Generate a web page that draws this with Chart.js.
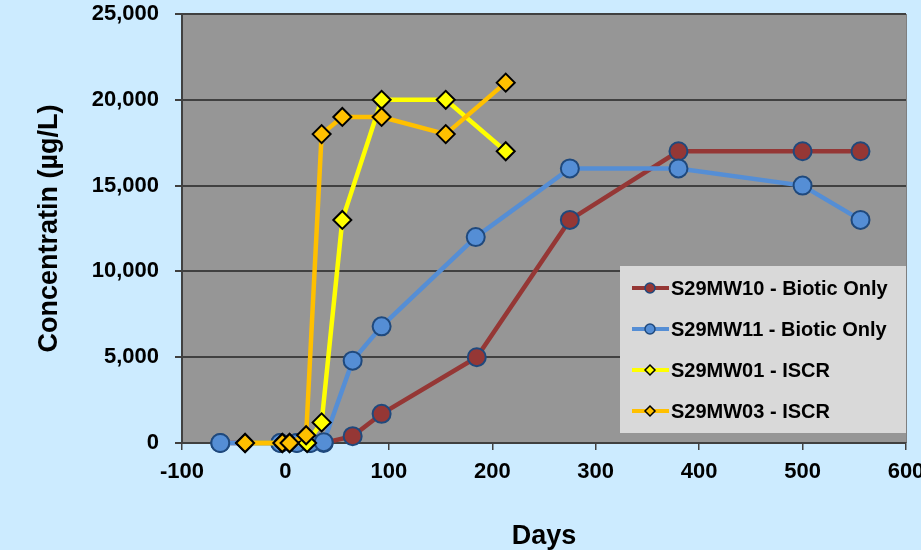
<!DOCTYPE html>
<html lang="en">
<head>
    <meta charset="UTF-8">
    <title>Concentration vs Days</title>
    <script src="https://cdn.jsdelivr.net/npm/chart.js"></script>
    <style>
        body { margin: 0; background: #CCEBFF; }
    </style>
</head>
<body>
    <canvas id="myChart" width="921" height="550"></canvas>

    <script>
        // series data
        const seriesNames = ['S29MW10 - Biotic Only', 'S29MW11 - Biotic Only', 'S29MW01 - ISCR', 'S29MW03 - ISCR'];

        const mw10Days = [-63, -5, 11, 24, 37, 65, 93, 185, 275, 380, 500, 556];
        const mw10Vals = [0, 0, 0, 0, 0, 400, 1700, 5000, 13000, 17000, 17000, 17000];

        const mw11Days = [-63, -5, 11, 24, 37, 65, 93, 184, 275, 380, 500, 556];
        const mw11Vals = [0, 0, 0, 0, 50, 4800, 6800, 12000, 16000, 16000, 15000, 13000];

        const mw01Days = [-39, -3, 4, 21, 35, 55, 93, 155, 213];
        const mw01Vals = [0, 0, 0, 0, 1200, 13000, 20000, 20000, 17000];

        const mw03Days = [-39, -3, 4, 20, 35, 55, 93, 155, 213];
        const mw03Vals = [0, 0, 0, 450, 18000, 19000, 19000, 18000, 21000];

        const FONT = '"Liberation Sans", Arial, sans-serif';

        function pts(days, vals) {
            return days.map((d, i) => ({ x: d, y: vals[i] }));
        }

        // gray plot area + canvas background
        const bgPlugin = {
            id: 'bg',
            beforeDraw(chart) {
                const { ctx, chartArea: a } = chart;
                ctx.save();
                ctx.fillStyle = '#CCEBFF';
                ctx.fillRect(0, 0, chart.width, chart.height);
                ctx.fillStyle = '#969696';
                ctx.fillRect(a.left, a.top, a.right - a.left, a.bottom - a.top);
                ctx.strokeStyle = '#7f7f7f';
                ctx.lineWidth = 1;
                ctx.beginPath();
                ctx.moveTo(a.right + 0.5, a.top);
                ctx.lineTo(a.right + 0.5, a.bottom);
                ctx.stroke();
                ctx.restore();
            }
        };

        // legend box inside the plot, bottom right
        const boxLegend = {
            id: 'boxLegend',
            afterDraw(chart) {
                const { ctx, chartArea: a } = chart;
                const x0 = a.right - 286, y0 = a.bottom - 177, w = 286, h = 167;
                ctx.save();
                ctx.fillStyle = '#D9D9D9';
                ctx.fillRect(x0, y0, w, h);
                chart.data.datasets.forEach((ds, i) => {
                    const y = y0 + 22 + i * 41;
                    ctx.strokeStyle = ds.borderColor;
                    ctx.lineWidth = 4;
                    ctx.beginPath();
                    ctx.moveTo(x0 + 12, y);
                    ctx.lineTo(x0 + 49, y);
                    ctx.stroke();
                    ctx.fillStyle = ds.pointBackgroundColor;
                    ctx.strokeStyle = ds.pointBorderColor;
                    ctx.lineWidth = 1.5;
                    ctx.beginPath();
                    if (ds.pointStyle === 'circle') {
                        ctx.arc(x0 + 30, y, 5, 0, Math.PI * 2);
                    } else {
                        ctx.moveTo(x0 + 30, y - 5);
                        ctx.lineTo(x0 + 35, y);
                        ctx.lineTo(x0 + 30, y + 5);
                        ctx.lineTo(x0 + 25, y);
                        ctx.closePath();
                    }
                    ctx.fill();
                    ctx.stroke();
                    ctx.fillStyle = '#000';
                    ctx.font = 'bold 20px ' + FONT;
                    ctx.textBaseline = 'middle';
                    ctx.fillText(ds.label, x0 + 51, y + 1);
                });
                ctx.restore();
            }
        };

        const ctx = document.getElementById('myChart').getContext('2d');

        new Chart(ctx, {
            type: 'line',
            data: {
                datasets: [
                    {
                        label: seriesNames[0],
                        data: pts(mw10Days, mw10Vals),
                        borderColor: '#953735',
                        pointBackgroundColor: '#953735',
                        pointBorderColor: '#1F497D',
                        pointStyle: 'circle',
                        pointRadius: 9,
                        order: 4
                    },
                    {
                        label: seriesNames[1],
                        data: pts(mw11Days, mw11Vals),
                        borderColor: '#558ED5',
                        pointBackgroundColor: '#558ED5',
                        pointBorderColor: '#1F497D',
                        pointStyle: 'circle',
                        pointRadius: 9,
                        order: 3
                    },
                    {
                        label: seriesNames[2],
                        data: pts(mw01Days, mw01Vals),
                        borderColor: '#FFFF00',
                        pointBackgroundColor: '#FFFF00',
                        pointBorderColor: '#000000',
                        pointStyle: 'rectRot',
                        pointRadius: 9,
                        order: 2
                    },
                    {
                        label: seriesNames[3],
                        data: pts(mw03Days, mw03Vals),
                        borderColor: '#FFC000',
                        pointBackgroundColor: '#FFC000',
                        pointBorderColor: '#000000',
                        pointStyle: 'rectRot',
                        pointRadius: 9,
                        order: 1
                    }
                ]
            },
            options: {
                responsive: false,
                animation: false,
                clip: false,
                elements: {
                    line: { borderWidth: 4.5, tension: 0 },
                    point: { borderWidth: 2 }
                },
                layout: {
                    padding: { left: 0, right: 15, top: 14, bottom: 0 }
                },
                plugins: {
                    legend: { display: false },
                    tooltip: { enabled: false }
                },
                scales: {
                    x: {
                        type: 'linear',
                        min: -100,
                        max: 600,
                        afterFit: s => {
                            s.height = 107;
                            s.paddingLeft = 0;
                            s.paddingRight = 0;
                        },
                        ticks: {
                            stepSize: 100,
                            color: '#000',
                            padding: 9,
                            font: { family: FONT, size: 22, weight: 'bold' }
                        },
                        grid: {
                            drawOnChartArea: false,
                            tickLength: 7,
                            tickColor: '#404040',
                            lineWidth: 1.5
                        },
                        border: { color: '#404040', width: 2 },
                        title: {
                            display: true,
                            text: 'Days',
                            color: '#000',
                            padding: { top: 0, bottom: 0 },
                            font: { family: FONT, size: 27, weight: 'bold', lineHeight: 1 }
                        }
                    },
                    y: {
                        min: 0,
                        max: 25000,
                        afterFit: s => {
                            s.width = 182;
                            s.paddingTop = 0;
                            s.paddingBottom = 0;
                        },
                        ticks: {
                            stepSize: 5000,
                            color: '#000',
                            padding: 16,
                            font: { family: FONT, size: 22, weight: 'bold' },
                            callback: v => v.toLocaleString('en-US')
                        },
                        grid: {
                            color: '#404040',
                            lineWidth: 2,
                            tickLength: 7,
                            tickColor: '#404040'
                        },
                        border: { color: '#404040', width: 2 },
                        title: {
                            display: true,
                            text: 'Concentratin (µg/L)',
                            color: '#000',
                            padding: { top: 33, bottom: 0 },
                            font: { family: FONT, size: 27, weight: 'bold' }
                        }
                    }
                }
            },
            plugins: [bgPlugin, boxLegend]
        });
    </script>
</body>
</html>
